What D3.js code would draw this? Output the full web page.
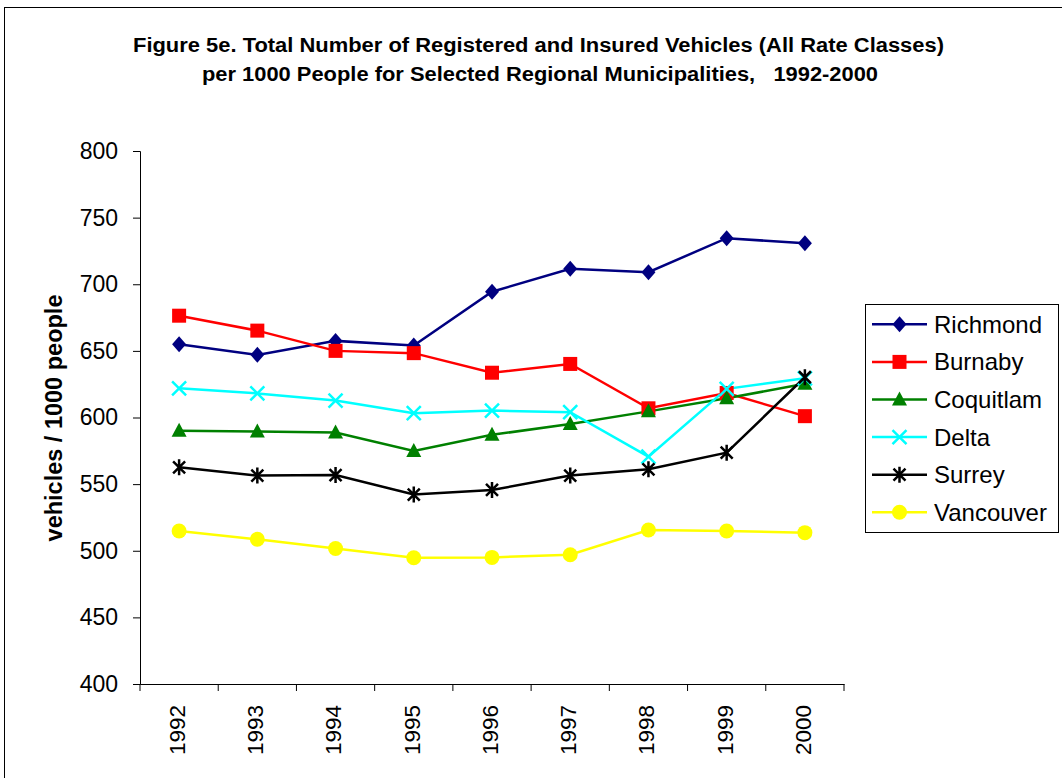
<!DOCTYPE html>
<html>
<head>
<meta charset="utf-8">
<script src="https://cdn.jsdelivr.net/npm/d3@7"></script>
<style>
  body { margin: 0; background: #fff; }
  svg { font-family: Arial, "Liberation Sans", sans-serif; }
</style>
</head>
<body>
<div id="chart"></div>
<script>
// data
var years = ["1992","1993","1994","1995","1996","1997","1998","1999","2000"];
var yTicks = [400,450,500,550,600,650,700,750,800];
var names = ["Richmond","Burnaby","Coquitlam","Delta","Surrey","Vancouver"];
var richmond  = [655, 647, 657.5, 654, 694.4, 711.6, 709, 734.6, 730.7];
var burnaby   = [676.4, 665.2, 650, 648.3, 633.6, 640.2, 606.9, 618.4, 601];
var coquitlam = [590, 589.5, 588.7, 574.9, 587, 595.1, 604.6, 614.4, 625.3];
var delta     = [621.9, 618.1, 612.7, 603.2, 605.2, 604, 570.6, 621.5, 629.4];
var surrey    = [562.6, 556.4, 556.8, 542.2, 545.6, 556.4, 561.1, 573.6, 630.2];
var vancouver = [514.8, 508.6, 501.7, 494.8, 495, 497, 515.6, 514.8, 513.6];

var colors = ["#000080","#ff0000","#008000","#00ffff","#000000","#ffff00"];
var shapes = ["diamond","square","triangle","cross","star","circle"];
var allSeries = [richmond, burnaby, coquitlam, delta, surrey, vancouver];

var W = 1062, H = 778;
var margin = {top: 151, left: 140, right: 218, bottom: 94};
var pw = W - margin.left - margin.right, ph = H - margin.top - margin.bottom;

var svg = d3.select("#chart").append("svg")
  .attr("width", W).attr("height", H);

// outer frame
svg.append("rect")
  .attr("x", 4.5).attr("y", 7.5)
  .attr("width", W + 10).attr("height", H + 10)
  .attr("fill", "none").attr("stroke", "#000").attr("stroke-width", 1);

// title
var title = svg.append("g")
  .attr("font-weight", "bold")
  .attr("font-size", "19.5px");
title.append("text").attr("x", 133).attr("y", 52)
  .attr("textLength", 811).attr("lengthAdjust", "spacingAndGlyphs")
  .text("Figure 5e. Total Number of Registered and Insured Vehicles (All Rate Classes)");
title.append("text").attr("x", 202).attr("y", 81)
  .attr("textLength", 676).attr("lengthAdjust", "spacingAndGlyphs")
  .attr("xml:space", "preserve")
  .text("per 1000 People for Selected Regional Municipalities,   1992-2000");

var g = svg.append("g")
  .attr("transform", "translate(" + margin.left + "," + margin.top + ")");

var x = d3.scaleBand().domain(years).range([0, pw]);
var y = d3.scaleLinear().domain([400, 800]).range([ph, 0]);

// y axis
var yAxis = g.append("g")
  .call(d3.axisLeft(y).tickValues(yTicks).tickSize(7).tickPadding(15));
yAxis.select(".domain").attr("stroke", "#000");
yAxis.selectAll("text").attr("font-size", "23px").attr("fill", "#000")
  .attr("font-family", "Arial, 'Liberation Sans', sans-serif");

// x axis
var xAxis = g.append("g")
  .attr("transform", "translate(0," + ph + ")")
  .call(d3.axisBottom(x).tickSize(0).tickSizeOuter(0));
xAxis.selectAll(".tick line").remove();
xAxis.selectAll("text")
  .attr("font-size", "22.5px").attr("fill", "#000")
  .attr("font-family", "Arial, 'Liberation Sans', sans-serif")
  .attr("text-anchor", "end")
  .attr("transform", "rotate(-90)")
  .attr("x", -21).attr("y", -2).attr("dy", "0.35em");
// category boundary ticks
xAxis.selectAll(".bnd")
  .data(d3.range(years.length + 1))
  .enter().append("line")
  .attr("x1", function(i){ return i * x.step(); })
  .attr("x2", function(i){ return i * x.step(); })
  .attr("y1", 0).attr("y2", 7)
  .attr("stroke", "#000");

// y axis title
svg.append("text")
  .attr("transform", "translate(62,418) rotate(-90)")
  .attr("text-anchor", "middle")
  .attr("font-weight", "bold")
  .attr("font-size", "23.5px")
  .text("vehicles / 1000 people");

function drawMarker(sel, shape, color) {
  if (shape == "diamond") {
    sel.append("path").attr("d", "M0,-8L7,0L0,8L-7,0Z").attr("fill", color);
  } else if (shape == "square") {
    sel.append("rect").attr("x", -7).attr("y", -7).attr("width", 14).attr("height", 14).attr("fill", color);
  } else if (shape == "triangle") {
    sel.append("path").attr("d", "M0,-8L7.5,6L-7.5,6Z").attr("fill", color);
  } else if (shape == "cross") {
    sel.append("path").attr("d", "M-7,-7L7,7M-7,7L7,-7").attr("stroke", color).attr("stroke-width", 2.5);
  } else if (shape == "star") {
    sel.append("path").attr("d", "M-6,-6L6,6M-6,6L6,-6M0,-8L0,8").attr("stroke", color).attr("stroke-width", 2.5);
  } else {
    sel.append("circle").attr("r", 7.5).attr("fill", color);
  }
}

var line = d3.line()
  .x(function(d, i){ return x(years[i]) + x.bandwidth() / 2; })
  .y(function(d){ return y(d); });

allSeries.forEach(function(vals, k) {
  g.append("path")
    .datum(vals)
    .attr("d", line)
    .attr("fill", "none")
    .attr("stroke", colors[k])
    .attr("stroke-width", 2.5);
});
allSeries.forEach(function(vals, k) {
  g.selectAll(".m" + k)
    .data(vals)
    .enter().append("g")
    .attr("class", "m" + k)
    .attr("transform", function(d, i){ return "translate(" + (x(years[i]) + x.bandwidth() / 2) + "," + y(d) + ")"; })
    .each(function(){ drawMarker(d3.select(this), shapes[k], colors[k]); });
});

// legend
var lg = svg.append("g").attr("transform", "translate(865,304)");
lg.append("rect").attr("x", 0.5).attr("y", 0.5).attr("width", 193).attr("height", 228)
  .attr("fill", "#fff").attr("stroke", "#000");
names.forEach(function(n, k) {
  var row = lg.append("g").attr("transform", "translate(0," + (20.3 + k * 37.6) + ")");
  row.append("line").attr("x1", 7).attr("x2", 62).attr("y1", 0).attr("y2", 0)
    .attr("stroke", colors[k]).attr("stroke-width", 2.5);
  drawMarker(row.append("g").attr("transform", "translate(34.5,0)"), shapes[k], colors[k]);
  row.append("text").attr("x", 69).attr("y", 0).attr("dy", "0.35em")
    .attr("font-size", "24px").text(n);
});
</script>
</body>
</html>
